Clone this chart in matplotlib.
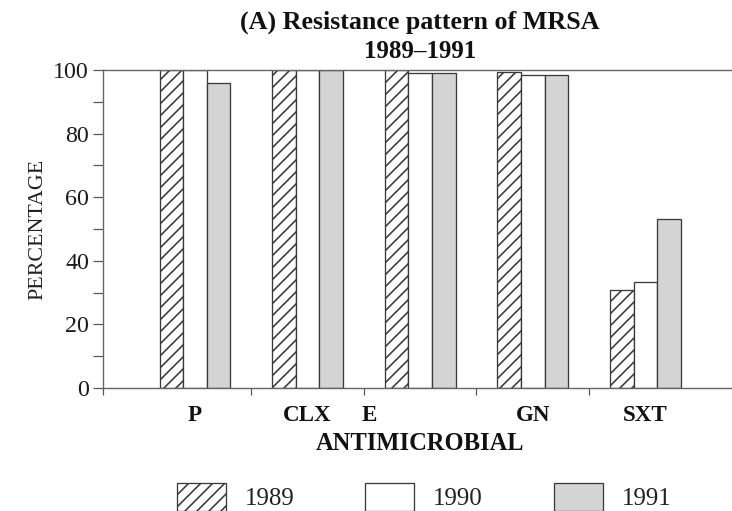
import matplotlib
matplotlib.use("Agg")
import matplotlib.pyplot as plt
import numpy as np

# data
drugs = ["P", "CLX", "E", "GN", "SXT"]
years = ["1989", "1990", "1991"]
r1989 = [100, 100, 100, 99.3, 30.8]
r1990 = [100, 100, 99.0, 98.4, 33.4]
r1991 = [96.0, 100, 99.0, 98.4, 53.1]

# the "E" label sits left of its group in the original
label_shift = [0, 0, -0.45, 0, 0]

plt.rcParams["font.family"] = ["Liberation Serif", "DejaVu Serif"]
plt.rcParams["hatch.linewidth"] = 1.6

fig = plt.figure(figsize=(732 / 72, 511 / 72), dpi=72)
ax = fig.add_axes([103 / 732, 1 - 388 / 511, 1.02 - 103 / 732, (388 - 70) / 511])

x = np.arange(len(drugs))
w = 0.21
edge = "#3a3a3a"
ax.bar(x - w, r1989, w, facecolor="white", edgecolor=edge, hatch="//", linewidth=1.3, label=years[0])
ax.bar(x, r1990, w, facecolor="white", edgecolor=edge, linewidth=1.3, label=years[1])
ax.bar(x + w, r1991, w, facecolor="#d4d4d4", edgecolor=edge, linewidth=1.3, label=years[2])

ax.set_xlim(-0.817, -0.817 + (1.02 * 732 - 103) / 112.6)
ax.set_ylim(0, 100)

for s in ["top", "bottom", "left", "right"]:
    ax.spines[s].set_color("#666666")
    ax.spines[s].set_linewidth(1.4)

ax.set_yticks(np.arange(0, 101, 20))
ax.set_yticks(np.arange(10, 100, 20), minor=True)
ax.tick_params(axis="y", which="both", direction="out", length=10, width=1.2,
               color="#555555", labelsize=24, pad=4, labelcolor="#1a1a1a")

ax.set_xticks(x + np.array(label_shift))
ax.set_xticklabels(drugs, fontweight="bold", fontsize=23, color="#111111")
ax.set_xticks([ax.get_xlim()[0], 0.5, 1.5, 2.5, 3.5], minor=True)
ax.tick_params(axis="x", which="major", length=0, pad=17)
ax.tick_params(axis="x", which="minor", direction="out", length=7, width=1.2, color="#555555")

ax.set_ylabel("PERCENTAGE", fontsize=22, color="#222222", labelpad=6)
ax.set_xlabel("ANTIMICROBIAL", fontsize=24.5, fontweight="bold", color="#111111")
ax.xaxis.label.set_va("center")
ax.xaxis.set_label_coords((420 - 103) / (1.02 * 732 - 103), -(443 - 388) / 318)

fig.text(420 / 732, 1 - 22 / 511, "(A) Resistance pattern of MRSA", ha="center", va="center",
         fontsize=26, fontweight="bold", color="#111111")
fig.text(420 / 732, 1 - 52 / 511, "1989\u20131991", ha="center", va="center",
         fontsize=25, fontweight="bold", color="#111111")

fig.legend(loc="center", bbox_to_anchor=(424 / 732, 1 - 497 / 511), ncol=3, frameon=False,
           fontsize=25, handlelength=1.95, handleheight=1.3, handletextpad=0.75,
           columnspacing=2.85, labelcolor="#222222")

fig.savefig("out.png", dpi=72, facecolor="white")
